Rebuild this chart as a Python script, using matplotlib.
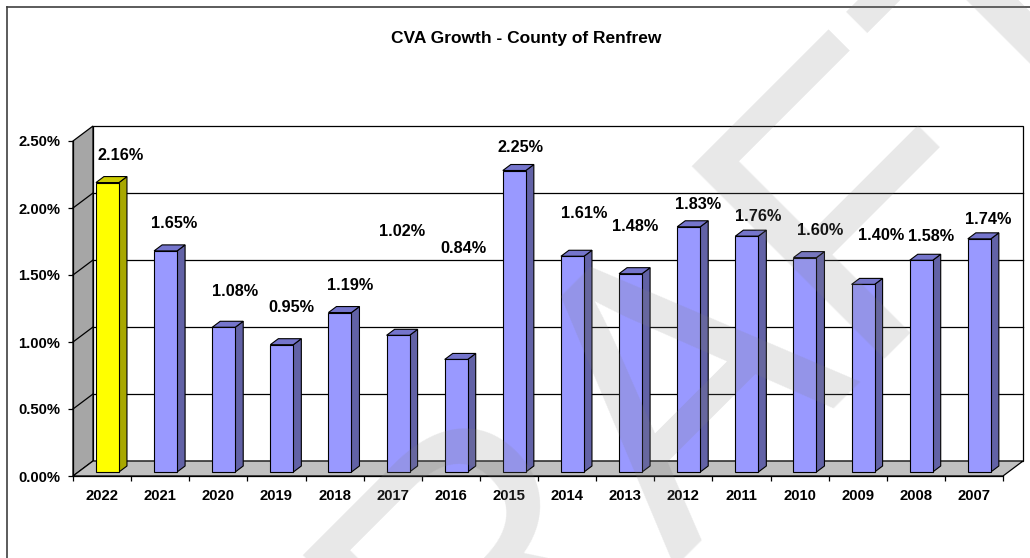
import matplotlib
matplotlib.use("Agg")
import matplotlib.pyplot as plt
from matplotlib.patches import Polygon, Rectangle
from matplotlib.lines import Line2D

# ---------------- data ----------------
years = ["2022", "2021", "2020", "2019", "2018", "2017", "2016", "2015",
         "2014", "2013", "2012", "2011", "2010", "2009", "2008", "2007"]
growth = [2.16, 1.65, 1.08, 0.95, 1.19, 1.02, 0.84, 2.25,
          1.61, 1.48, 1.83, 1.76, 1.60, 1.40, 1.58, 1.74]
value_labels = ["2.16%", "1.65%", "1.08%", "0.95%", "1.19%", "1.02%", "0.84%", "2.25%",
                "1.61%", "1.48%", "1.83%", "1.76%", "1.60%", "1.40%", "1.58%", "1.74%"]
yticks = [0.0, 0.5, 1.0, 1.5, 2.0, 2.5]
title = "CVA Growth - County of Renfrew"

# ---------------- layout / style ----------------
W_PX, H_PX, DPI = 1030, 558, 100
FONT = "Liberation Sans"
# label offsets (pixels) relative to bar top-front centre
lab_dx = [13.5, 8.4, 11.3, 9.2, 10.0, 3.9, 6.8, 5.7, 11.6, 4.5, 9.3, 11.2, 15.1, 18.0, 9.9, 8.7]
lab_dy = [26.6, 26.9, 35.3, 37.7, 27.5, 104.3, 111.4, 22.5, 42.3, 46.7, 21.8, 19.2, 26.6, 48.4, 23.3, 19.8]

fig = plt.figure(figsize=(W_PX / DPI, H_PX / DPI), dpi=DPI)
fig.patch.set_facecolor("white")

ax_l, ax_r, ax_t, ax_b = 73, 1003, 141, 476
ax = fig.add_axes([ax_l / W_PX, 1 - ax_b / H_PX, (ax_r - ax_l) / W_PX, (ax_b - ax_t) / H_PX])
n = len(years)
ymax = 2.5
ax.set_xlim(0, n)
ax.set_ylim(0, ymax)
ax.set_facecolor("none")

px_x = (ax_r - ax_l) / n          # pixels per category
px_y = (ax_b - ax_t) / ymax       # pixels per percent
DX = 20 / px_x                    # depth offset in data units
DY = 15 / px_y

# walls and floor
left_wall = Polygon([(0, 0), (DX, DY), (DX, ymax + DY), (0, ymax)], closed=True,
                    facecolor="#A6A6A6", edgecolor="black", lw=0.9, clip_on=False, zorder=1)
floor = Polygon([(0, 0), (n, 0), (n + DX, DY), (DX, DY)], closed=True,
                facecolor="#C0C0C0", edgecolor="black", lw=0.9, clip_on=False, zorder=1)
back_wall = Rectangle((DX, DY), n, ymax, facecolor="white", edgecolor="black",
                      lw=0.9, clip_on=False, zorder=0.5)
ax.add_patch(back_wall)
ax.add_patch(left_wall)
ax.add_patch(floor)
for v in yticks[1:-1]:
    ax.add_line(Line2D([DX, n + DX], [v + DY, v + DY], color="black", lw=0.9,
                       clip_on=False, zorder=0.8))
    ax.add_line(Line2D([0, DX], [v, v + DY], color="black", lw=0.9,
                       clip_on=False, zorder=1.2))

# bars
BW = 23 / px_x
sx, sy = 5.4 / px_x, 4 / px_y
bdx, bdy = 8 / px_x, 6 / px_y
for i, v in enumerate(growth):
    if i == 0:
        fc, sc, tc = "#FFFF00", "#A8A800", "#CCCC00"
    else:
        fc, sc, tc = "#9999FF", "#6262A6", "#7575CC"
    x0 = i + 0.5 - BW / 2 + sx
    x1 = x0 + BW
    y0 = sy
    y1 = v + sy
    side = Polygon([(x1, y0), (x1 + bdx, y0 + bdy), (x1 + bdx, y1 + bdy), (x1, y1)],
                   closed=True, facecolor=sc, edgecolor="black", lw=0.8, clip_on=False, zorder=3)
    top = Polygon([(x0, y1), (x1, y1), (x1 + bdx, y1 + bdy), (x0 + bdx, y1 + bdy)],
                  closed=True, facecolor=tc, edgecolor="black", lw=0.8, clip_on=False, zorder=3)
    front = Rectangle((x0, y0), BW, v, facecolor=fc, edgecolor="black", lw=0.8,
                      clip_on=False, zorder=4)
    ax.add_patch(side)
    ax.add_patch(top)
    ax.add_patch(front)
    ax.annotate(value_labels[i], xy=(i + 0.5 + sx, y1), xytext=(lab_dx[i], lab_dy[i]),
                textcoords="offset pixels", ha="center", va="center",
                fontsize=11.7, fontweight="bold", family=FONT, color="black", zorder=6,
                annotation_clip=False)

# axes lines and ticks
for s in ["top", "right"]:
    ax.spines[s].set_visible(False)
for s in ["left", "bottom"]:
    ax.spines[s].set_color("black")
    ax.spines[s].set_linewidth(0.9)
    ax.spines[s].set_zorder(2)

ax.set_yticks(yticks)
ax.set_yticklabels([f"{t:.2f}%" for t in yticks], fontsize=10.7, fontweight="bold", family=FONT)
ax.tick_params(axis="y", direction="out", length=3.6, width=0.9, pad=5.5, colors="black")

ax.set_xticks(range(n + 1))
ax.set_xticklabels([])
ax.set_xticks([i + 0.5 for i in range(n)], minor=True)
ax.set_xticklabels(years, minor=True, fontsize=10.7, fontweight="bold", family=FONT)
ax.tick_params(axis="x", which="major", direction="out", length=3.6, width=0.9)
ax.tick_params(axis="x", which="minor", length=0, pad=9)

# title
fig.text(526 / W_PX, 1 - 38 / H_PX, title, ha="center", va="center",
         fontsize=12.5, fontweight="bold", family=FONT)

# figure frame (top and left edges visible)
fig.add_artist(Line2D([7 / W_PX, 7 / W_PX], [0, 1 - 7 / H_PX], color="#404040", lw=1.2,
                      transform=fig.transFigure))
fig.add_artist(Line2D([7 / W_PX, 1], [1 - 7 / H_PX, 1 - 7 / H_PX], color="#404040", lw=1.2,
                      transform=fig.transFigure))

# watermark
fig.text(655 / W_PX, 1 - 410 / H_PX, "DRAFT", rotation=45, ha="center", va="center",
         rotation_mode="anchor", fontsize=285, fontweight="normal", family=FONT,
         color="#7F7F7F", alpha=0.18, zorder=100)

fig.savefig("out.png", dpi=DPI)
